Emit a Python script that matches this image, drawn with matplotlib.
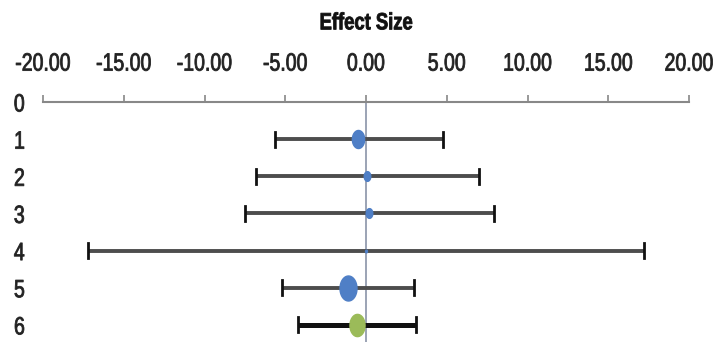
import matplotlib
matplotlib.use("Agg")
import matplotlib.pyplot as plt
import numpy as np
from matplotlib.path import Path
from matplotlib.transforms import Affine2D
from matplotlib.patheffects import AbstractPathEffect

# Study rows (row 0 is the axis row, rows 1-5 studies, row 6 pooled estimate)
row_labels = ["0", "1", "2", "3", "4", "5", "6"]
rows = [1, 2, 3, 4, 5, 6]
effect = [-0.49, 0.05, 0.18, 0.0, -1.10, -0.57]
lower = [-5.63, -6.80, -7.50, -17.20, -5.20, -4.20]
upper = [4.78, 7.00, 7.90, 17.20, 3.00, 3.10]
weight = [13, 7, 7, 2, 18, 16]
x_ticks = [-20, -15, -10, -5, 0, 5, 10, 15, 20]

plt.rcParams["font.family"] = ["Liberation Sans", "DejaVu Sans"]


class Condensed(AbstractPathEffect):
    """Squeeze glyphs horizontally about their own centre, with a thin outline."""

    def __init__(self, sx=0.75, stroke=0.5):
        super().__init__()
        self.sx = sx
        self.stroke = stroke

    def draw_path(self, renderer, gc, tpath, affine, rgbFace=None):
        ext = tpath.get_extents()
        cx = 0.5 * (ext.x0 + ext.x1)
        pre = Affine2D().translate(-cx, 0).scale(self.sx, 1).translate(cx, 0)
        gc0 = renderer.new_gc()
        gc0.copy_properties(gc)
        gc0.set_linewidth(self.stroke)
        if rgbFace is not None:
            gc0.set_foreground(rgbFace)
        renderer.draw_path(gc0, tpath, pre + affine, rgbFace)
        gc0.restore()


narrow = [Condensed(0.78, 0.6)]

# slightly tall ellipse marker
t = np.linspace(0, 2 * np.pi, 60)
oval = Path(np.column_stack([0.68 * np.cos(t), np.sin(t)]))

fig = plt.figure(figsize=(7.27, 3.42), dpi=100)
ax = fig.add_axes([43 / 727, 0.0, 646 / 727, 240 / 342])

ax.set_xlim(-20, 20)
ax.set_ylim(6.46, 0)

# zero reference line
ax.axvline(0, color="#8a93a8", lw=1.2, zorder=1)

for i, r in enumerate(rows):
    pooled = (r == 6)
    col = "#111111" if pooled else "#4d4d4d"
    lw = 3.6 if pooled else 2.8
    ax.plot([lower[i], upper[i]], [r, r], color=col, lw=lw, solid_capstyle="butt", zorder=2)
    for xe in (lower[i], upper[i]):
        ax.plot([xe, xe], [r - 0.2, r + 0.2], color="#111111", lw=2.0, zorder=2)
    mcol = "#9bbb59" if pooled else "#4f7fc6"
    ax.plot(effect[i], r, marker=oval, ms=weight[i], color=mcol, mec=mcol, zorder=3)

ax.set_yticks(range(len(row_labels)))
ax.set_yticklabels(row_labels)
ax.tick_params(axis="y", length=0, pad=12, labelsize=18, labelcolor="#222222")

ax.xaxis.tick_top()
ax.xaxis.set_label_position("top")
ax.set_xticks(x_ticks)
ax.set_xticklabels([f"{v:.2f}" for v in x_ticks])
ax.tick_params(axis="x", direction="out", length=5, width=1.2, color="#888888",
               pad=14, labelsize=18, labelcolor="#222222")
ax.set_xlabel("Effect Size", fontsize=17, fontweight="bold", labelpad=16, color="#111111",
              path_effects=narrow)

for lab in ax.get_xticklabels() + ax.get_yticklabels():
    lab.set_path_effects(narrow)

for s in ("left", "right", "bottom"):
    ax.spines[s].set_visible(False)
ax.spines["top"].set_color("#888888")
ax.spines["top"].set_linewidth(1.5)

fig.savefig("out.png", dpi=100)
